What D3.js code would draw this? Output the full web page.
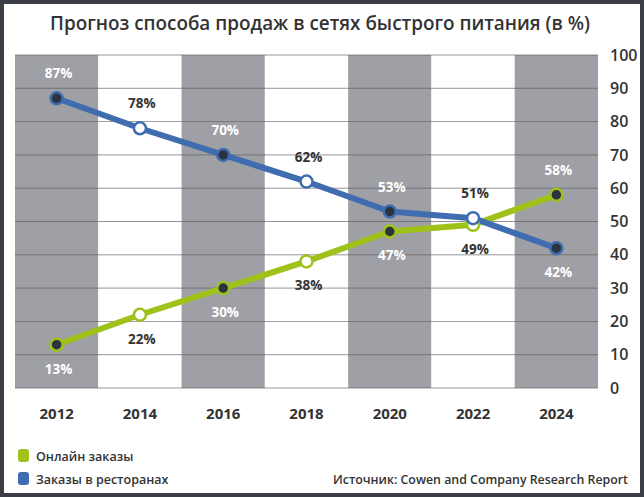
<!DOCTYPE html>
<html><head><meta charset="utf-8">
<script src="https://cdn.jsdelivr.net/npm/d3@7"></script>
<style>
html,body{margin:0;padding:0;background:#fff;}
svg{display:block;}
text{font-family:"Open Sans",sans-serif;}
</style></head>
<body>
<script>
const years = ["2012","2014","2016","2018","2020","2022","2024"];
const online = [13,22,30,38,47,49,58];
const restaurants = [87,78,70,62,53,51,42];
const yTicks = [0,10,20,30,40,50,60,70,80,90,100];
const seriesNames = ["Онлайн заказы","Заказы в ресторанах"];

(function(){
const W=644,H=497;
const svg=d3.select("body").append("svg").attr("width",W).attr("height",H);
svg.append("rect").attr("x",2).attr("y",2).attr("width",W-4).attr("height",H-4)
  .attr("fill","#fff").attr("stroke","#3b3e44").attr("stroke-width",4);

const pL=15,pR=598,pT=55,pB=388;
const x=d3.scaleBand().domain(years).range([pL,pR]);
const y=d3.scaleLinear().domain([0,100]).range([pB,pT]);

svg.append("text").attr("x",320).attr("y",30).attr("text-anchor","middle")
  .attr("font-size",20).attr("font-weight",600).attr("fill","#333")
  .attr("textLength",540).attr("lengthAdjust","spacingAndGlyphs")
  .text("Прогноз способа продаж в сетях быстрого питания (в %)");

// columns
svg.append("g").selectAll("rect").data(years).join("rect")
  .attr("x",d=>x(d)).attr("y",pT).attr("width",x.bandwidth()).attr("height",pB-pT)
  .attr("fill",(d,i)=>i%2===0?"#9fa0a5":"#fff");

// gridlines
svg.append("g").selectAll("line").data(yTicks).join("line")
  .attr("x1",pL).attr("x2",pR).attr("y1",d=>y(d)).attr("y2",d=>y(d))
  .attr("stroke","#5a5c60").attr("stroke-width",0.8).attr("opacity",0.8);

// right axis
const ax=svg.append("g").attr("transform",`translate(${pR},0)`)
  .call(d3.axisRight(y).tickValues(yTicks).tickSize(0).tickPadding(12));
ax.select(".domain").remove();
ax.selectAll("text").attr("font-size",16).attr("font-weight",600).attr("fill","#333")
  .attr("font-family","'Open Sans',sans-serif");

// bottom axis
const bx=svg.append("g").attr("transform",`translate(0,${pB})`)
  .call(d3.axisBottom(x).tickSize(0).tickPadding(20));
bx.select(".domain").remove();
bx.selectAll("text").attr("font-size",15).attr("font-weight",700).attr("fill","#333")
  .attr("font-family","'Open Sans',sans-serif");

const cx=d=>x(d)+x.bandwidth()/2;
const series=[
  {vals:online,color:"#9ec21a",labelPos:[1,1,1,1,1,1,-1]},
  {vals:restaurants,color:"#3f6db0",labelPos:[-1,-1,-1,-1,-1,-1,1]}
];
const line=d3.line().x((d,i)=>cx(years[i])).y(d=>y(d));
series.forEach(s=>{
  svg.append("path").datum(s.vals).attr("d",line).attr("fill","none")
    .attr("stroke",s.color).attr("stroke-width",6).attr("stroke-linejoin","round");
});
series.forEach(s=>{
  svg.append("g").selectAll("circle").data(s.vals).join("circle")
    .attr("cx",(d,i)=>cx(years[i])).attr("cy",d=>y(d)).attr("r",6)
    .attr("fill",(d,i)=>i%2===0?"#2b3340":"#fff")
    .attr("stroke",s.color).attr("stroke-width",2.5);
  svg.append("g").selectAll("text").data(s.vals).join("text")
    .attr("x",(d,i)=>cx(years[i])+2).attr("y",(d,i)=>y(d)+(s.labelPos[i]>0?29:-20))
    .attr("text-anchor","middle").attr("font-size",13.5).attr("font-weight",700)
    .attr("fill",(d,i)=>i%2===0?"#fff":"#333")
    .text(d=>d+"%");
});

// legend
const lg=svg.append("g");
seriesNames.forEach((n,i)=>{
  const yy=456+i*23;
  lg.append("rect").attr("x",18).attr("y",yy-7).attr("width",11).attr("height",13).attr("rx",3)
    .attr("fill",series[i].color);
  lg.append("text").attr("x",36).attr("y",yy+5).attr("font-size",12.5).attr("font-weight",600)
    .attr("fill","#333").text(n);
});
svg.append("text").attr("x",628).attr("y",484).attr("text-anchor","end")
  .attr("font-size",13).attr("font-weight",600).attr("fill","#333")
  .attr("textLength",295).attr("lengthAdjust","spacingAndGlyphs")
  .text("Источник: Cowen and Company Research Report");
})();
</script>
</body></html>
